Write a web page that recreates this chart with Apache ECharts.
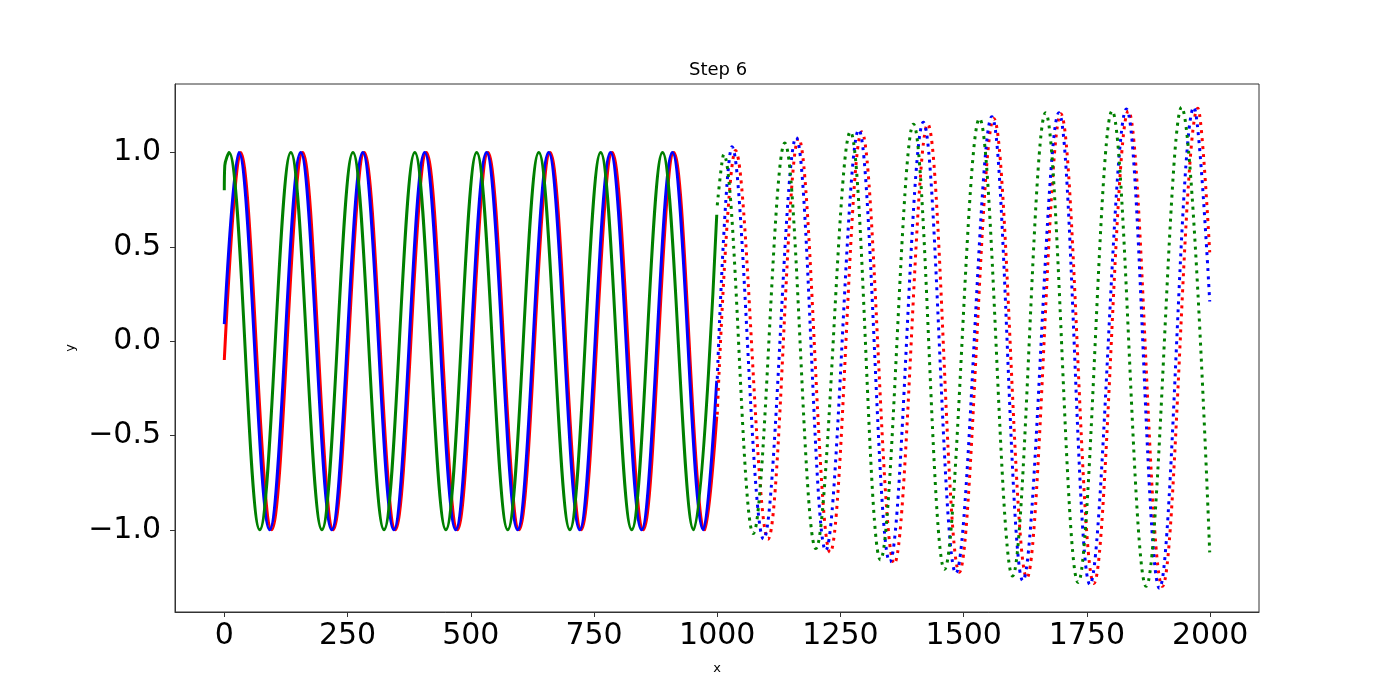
<!DOCTYPE html>
<html>
	<head>
		<meta charset="utf-8" />
		<title>Step 6</title>
		<style type="text/css">
			html, body { margin: 0; padding: 0; background: #fff; }
			#main { width: 1400px; height: 700px; }
		</style>
		<script src="https://cdn.jsdelivr.net/npm/echarts@6/dist/echarts.min.js" type="text/javascript" charset="utf-8"></script>
	</head>
	<body>
		<div id="main"></div>
		<script type="text/javascript">
			// tick labels
			var xTicks = [0, 250, 500, 750, 1000, 1250, 1500, 1750, 2000];
			var yTicks = [-1.0, -0.5, 0.0, 0.5, 1.0];

			// solid part, x 0..999: start, peaks/troughs and end
			var redSolid = [[0,-0.10],[33,1],[96,-1],[159,1],[221,-1],[284,1],[347,-1],[410,1],[473,-1],[535,1],[598,-1],[661,1],[724,-1],[787,1],[850,-1],[912,1],[975,-1],[999,-0.40]];
			var blueSolid = [[0,0.09],[29.5,1],[92,-1],[155,1],[218,-1],[281,1],[344,-1],[406.5,1],[469.5,-1],[532,1],[595,-1],[658,1],[721,-1],[783.5,1],[846.5,-1],[909,1],[972,-1],[999,-0.21]];
			var greenSolid = [[0,0.80],[1,0.93],[9.5,1],[72,-1],[135,1],[198,-1],[261,1],[324,-1],[386.5,1],[449.5,-1],[512,1],[575,-1],[638,1],[701,-1],[763.5,1],[826.5,-1],[889,1],[952,-1],[999,0.67]];

			// dotted part, x 1000..1999
			var redDotted = [[1000,-0.39],[1037,1.01],[1103,-1.05],[1165,1.075],[1229,-1.12],[1293,1.11],[1359,-1.18],[1427,1.15],[1491,-1.225],[1561,1.18],[1628,-1.255],[1697,1.205],[1764,-1.285],[1834,1.22],[1903,-1.30],[1975,1.235],[1999,0.47]];
			var blueDotted = [[1000,-0.20],[1030,1.03],[1094,-1.05],[1160,1.08],[1220,-1.11],[1287,1.12],[1350,-1.17],[1418,1.16],[1484,-1.23],[1557,1.19],[1620,-1.27],[1693,1.21],[1756,-1.29],[1830,1.23],[1897,-1.31],[1967,1.24],[1999,0.21]];
			var greenDotted = [[1000,0.72],[1013,0.99],[1073,-1.02],[1137,1.05],[1200,-1.10],[1270,1.11],[1331,-1.16],[1398,1.15],[1461,-1.21],[1532,1.18],[1599,-1.245],[1666,1.21],[1732,-1.28],[1801,1.22],[1870,-1.30],[1942,1.24],[1999,-1.12]];

			var frameColor = '#333';
			var font = 'DejaVu Sans';

			function line(data, color, dotted){
				return {
					type: 'line',
					data: data,
					// handle length ~0.364 of a half wave gives a cosine-like bezier
					smooth: 0.3642,
					symbol: 'none',
					silent: true,
					lineStyle: {
						color: color,
						width: 3,
						type: dotted ? [3, 5] : 'solid',
						cap: 'butt'
					}
				};
			}

			var myChart = echarts.init(document.getElementById('main'));
			var option = {
				animation: false,
				backgroundColor: '#fff',
				title: {
					text: 'Step 6',
					left: 684,
					top: 56,
					textStyle: { fontSize: 18, fontWeight: 'normal', color: '#000', fontFamily: font }
				},
				grid: {
					left: 175, right: 141, top: 84, bottom: 88,
					show: true, borderColor: frameColor, borderWidth: 1
				},
				xAxis: {
					type: 'value',
					min: -100,
					max: 2099,
					name: 'x',
					nameLocation: 'middle',
					nameGap: 50,
					nameTextStyle: { fontSize: 13, color: '#000', fontFamily: font },
					axisLine: { show: true, onZero: false, lineStyle: { color: frameColor, width: 1 } },
					axisTick: { show: true, length: 5, customValues: xTicks, lineStyle: { color: frameColor } },
					axisLabel: {
						customValues: xTicks, fontSize: 30, color: '#000', fontFamily: font, margin: 9,
						formatter: function(v){ return String(v); }
					},
					splitLine: { show: false }
				},
				yAxis: {
					type: 'value',
					min: -1.436,
					max: 1.363,
					name: 'y',
					nameLocation: 'middle',
					nameGap: 93,
					nameTextStyle: { fontSize: 13, color: '#000', fontFamily: font },
					axisLine: { show: true, onZero: false, lineStyle: { color: frameColor, width: 1 } },
					axisTick: { show: true, length: 5, customValues: yTicks, lineStyle: { color: frameColor } },
					axisLabel: {
						customValues: yTicks, fontSize: 30, color: '#000', fontFamily: font, margin: 14,
						formatter: function(v){ return (v < 0 ? '\u2212' : '') + Math.abs(v).toFixed(1); }
					},
					splitLine: { show: false }
				},
				series: [
					line(redSolid, '#ff0000', false),
					line(blueSolid, '#0000ff', false),
					line(greenSolid, '#008000', false),
					line(redDotted, '#ff0000', true),
					line(blueDotted, '#0000ff', true),
					line(greenDotted, '#008000', true)
				]
			};
			myChart.setOption(option);
		</script>
	</body>
</html>
